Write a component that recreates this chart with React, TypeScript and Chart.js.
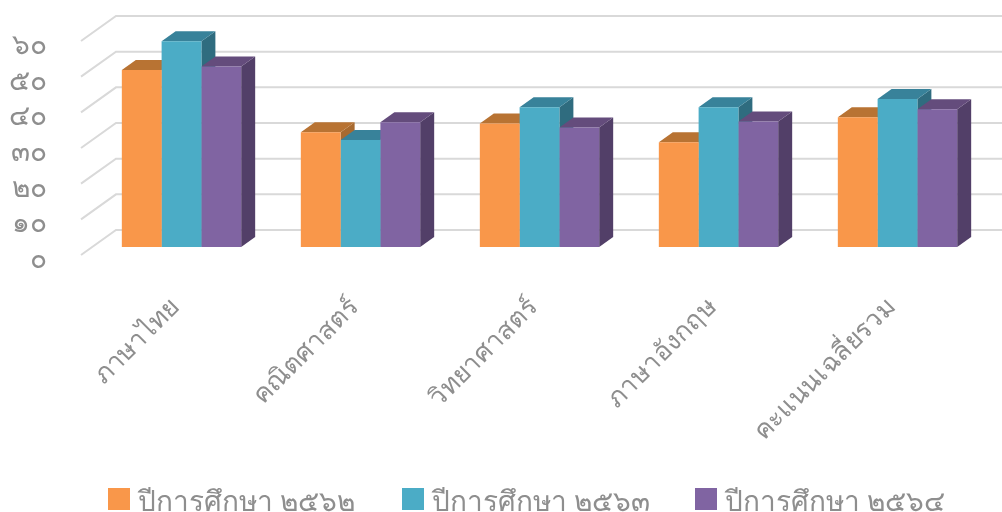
import React, { useEffect, useRef } from "react";
import { Chart, registerables } from "chart.js";

Chart.register(...registerables);

const categories = ["ภาษาไทย", "คณิตศาสตร์", "วิทยาศาสตร์", "ภาษาอังกฤษ", "คะแนนเฉลี่ยรวม"];
const seriesNames = ["ปีการศึกษา ๒๕๖๒", "ปีการศึกษา ๒๕๖๓", "ปีการศึกษา ๒๕๖๔"];
const values2562 = [49.6, 32.2, 34.6, 29.4, 36.4];
const values2563 = [57.7, 30, 39.2, 39.2, 41.5];
const values2564 = [50.6, 35, 33.5, 35.2, 38.6];
const thaiTicks = ["๐", "๑๐", "๒๐", "๓๐", "๔๐", "๕๐", "๖๐"];

const frontColors = ["#F9974A", "#4BACC6", "#8064A2"];
const topColors = ["#B87333", "#38829A", "#644C7C"];
const sideColors = ["#A86A30", "#2F6C7F", "#523F68"];
const legendX = [108, 402, 695];

const FONT = "'Noto Sans', 'DejaVu Sans', sans-serif";
const TEXT = "#8E8E8E";
const DX = 14;
const DY = 10;

const poly = (ctx: CanvasRenderingContext2D, pts: number[][], color: string) => {
  ctx.fillStyle = color;
  ctx.beginPath();
  pts.forEach(([x, y], i) => (i ? ctx.lineTo(x, y) : ctx.moveTo(x, y)));
  ctx.closePath();
  ctx.fill();
};

const wall3d = {
  id: "wall3d",
  beforeDatasetsDraw(chart: any) {
    const { ctx, scales, width } = chart;
    ctx.save();
    ctx.strokeStyle = "#D9D9D9";
    ctx.lineWidth = 2;
    scales.y.ticks.forEach((t: any) => {
      const y = scales.y.getPixelForValue(t.value);
      ctx.beginPath();
      ctx.moveTo(81, y + 8);
      ctx.lineTo(116, y - 17);
      ctx.lineTo(width, y - 17);
      ctx.stroke();
    });
    const count = chart.data.labels.length;
    for (let c = 0; c < count; c++) {
      chart.data.datasets.forEach((_: any, d: number) => {
        const b = chart.getDatasetMeta(d).data[c];
        const half = b.width / 2;
        const l = b.x - half;
        const r = b.x + half;
        poly(ctx, [[r, b.y], [r + DX, b.y - DY], [r + DX, b.base - DY], [r, b.base]], sideColors[d]);
        poly(ctx, [[l, b.y], [l + DX, b.y - DY], [r + DX, b.y - DY], [r, b.y]], topColors[d]);
      });
    }
    ctx.restore();
  },
};

const bottomLegend = {
  id: "bottomLegend",
  afterDraw(chart: any) {
    const { ctx } = chart;
    ctx.save();
    ctx.font = `28px ${FONT}`;
    ctx.textBaseline = "alphabetic";
    ctx.textAlign = "left";
    chart.data.datasets.forEach((ds: any, i: number) => {
      ctx.fillStyle = frontColors[i];
      ctx.fillRect(legendX[i], 488, 22, 22);
      ctx.fillStyle = TEXT;
      ctx.fillText(ds.label, legendX[i] + 30, 511);
    });
    ctx.restore();
  },
};

export default function App() {
  const ref = useRef<HTMLCanvasElement>(null);
  useEffect(() => {
    const chart = new Chart(ref.current as HTMLCanvasElement, {
      type: "bar",
      data: {
        labels: categories,
        datasets: [values2562, values2563, values2564].map((data, i) => ({
          label: seriesNames[i],
          data,
          backgroundColor: frontColors[i],
          borderWidth: 0,
          barPercentage: 1,
          categoryPercentage: 0.6667,
        })),
      },
      options: {
        animation: false,
        responsive: false,
        layout: { autoPadding: false, padding: { left: 0, right: 15, top: 33, bottom: 0 } },
        plugins: {
          tooltip: { enabled: false },
          legend: { display: false },
        },
        scales: {
          x: {
            grid: { display: false },
            border: { display: false },
            ticks: {
              autoSkip: false,
              maxRotation: 45,
              minRotation: 45,
              padding: 37,
              labelOffset: -6,
              color: TEXT,
              font: { family: FONT, size: 26 },
            },
            afterFit(s: any) {
              s.height = 265;
            },
          },
          y: {
            min: 0,
            max: 60,
            grid: { display: false },
            border: { display: false },
            ticks: {
              autoSkip: false,
              stepSize: 10,
              padding: 37,
              labelOffset: 13,
              color: TEXT,
              font: { family: FONT, size: 28 },
              callback: (_v: any, i: number) => thaiTicks[i],
            },
            afterFit(s: any) {
              s.width = 92;
              s.paddingTop = 0;
              s.paddingBottom = 0;
            },
          },
        },
      } as any,
      plugins: [wall3d, bottomLegend],
    });
    return () => chart.destroy();
  }, []);
  return (
    <div style={{ position: "absolute", left: 0, top: 0, width: 1002, height: 512, overflow: "hidden", background: "#fff" }}>
      <canvas ref={ref} width={1002} height={512} style={{ display: "block" }} />
    </div>
  );
}
